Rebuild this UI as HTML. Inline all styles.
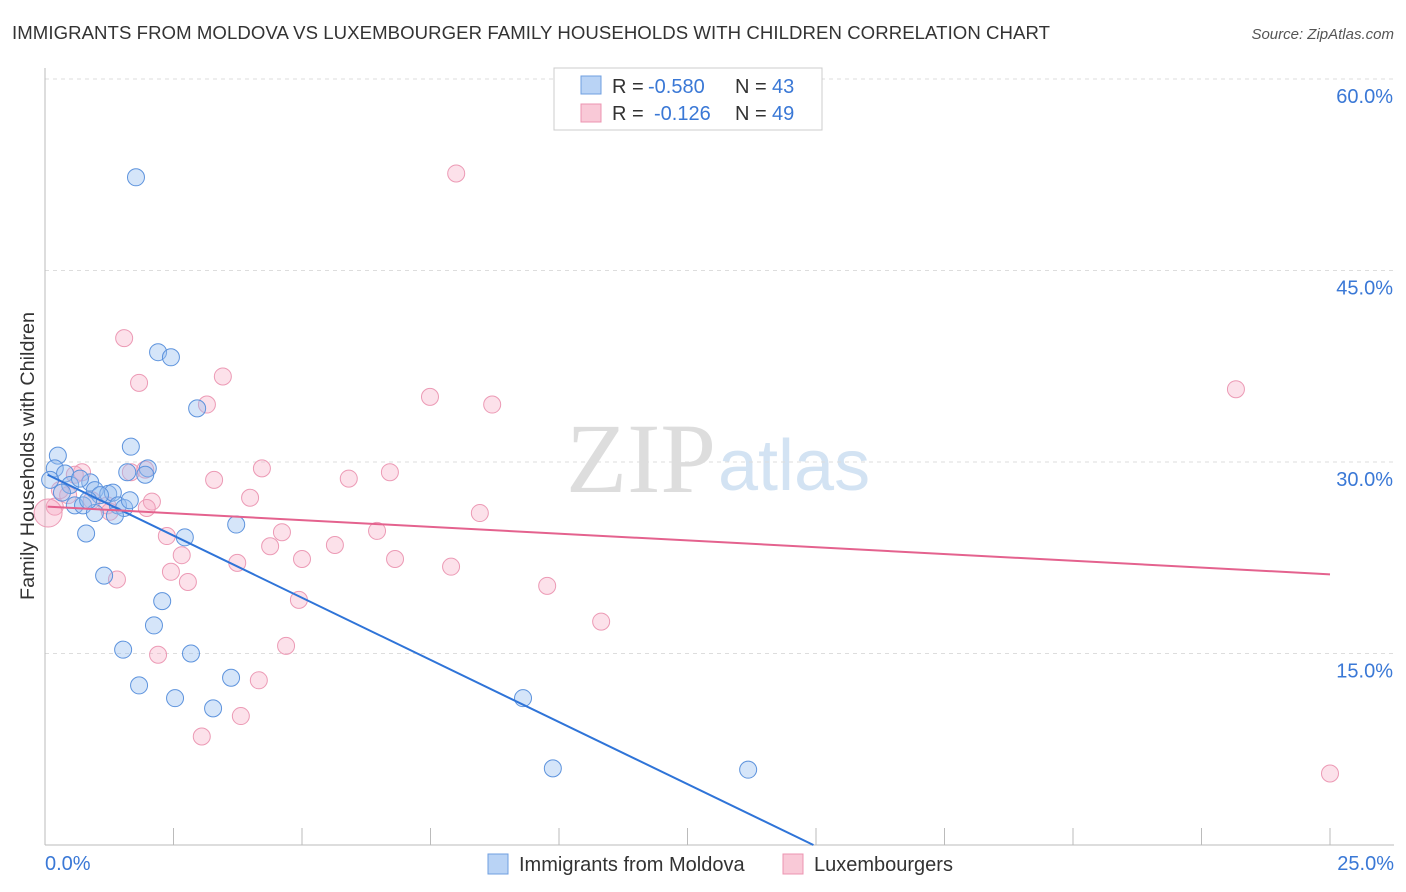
<!DOCTYPE html>
<html><head><meta charset="utf-8"><style>
body{margin:0;background:#fff;font-family:"Liberation Sans",sans-serif}
#c{position:absolute;left:0;top:0}
</style></head><body>
<svg id="c" width="1406" height="892">
<text x="12" y="39" font-size="18.6" fill="#333" textLength="1038">IMMIGRANTS FROM MOLDOVA VS LUXEMBOURGER FAMILY HOUSEHOLDS WITH CHILDREN CORRELATION CHART</text>
<text x="1394" y="39" font-size="15" fill="#555" font-style="italic" text-anchor="end">Source: ZipAtlas.com</text>
<text x="716" y="492" font-size="100" fill="#ddd" text-anchor="end" font-family="Liberation Serif,serif">ZIP</text>
<text x="718" y="490" font-size="72" fill="#d3e3f3">atlas</text>
<g id="grid"></g><g id="axes"></g><g id="pts"></g><g id="lines"></g>
<text x="34" y="456" font-size="19.8" fill="#333" text-anchor="middle" transform="rotate(-90 34 456)">Family Households with Children</text>
<g>
<rect x="554" y="68" width="268" height="62" fill="#fff" stroke="#ccc"/>
<rect x="581" y="76" width="20" height="18" fill="#b9d3f5" stroke="#6f9fe0"/>
<rect x="581" y="104" width="20" height="18" fill="#f9c9d7" stroke="#ec94b0"/>
<text x="612" y="93" font-size="20" fill="#333">R =</text>
<text x="648" y="93" font-size="20" fill="#3a78d6">-0.580</text>
<text x="735" y="93" font-size="20" fill="#333">N =</text>
<text x="772" y="93" font-size="20" fill="#3a78d6">43</text>
<text x="612" y="120" font-size="20" fill="#333">R =</text>
<text x="654" y="120" font-size="20" fill="#3a78d6">-0.126</text>
<text x="735" y="120" font-size="20" fill="#333">N =</text>
<text x="772" y="120" font-size="20" fill="#3a78d6">49</text>
</g>
<g>
<rect x="488" y="854" width="20" height="20" fill="#b9d3f5" stroke="#6f9fe0"/>
<text x="519" y="871" font-size="20" fill="#333">Immigrants from Moldova</text>
<rect x="783" y="854" width="20" height="20" fill="#f9c9d7" stroke="#ec94b0"/>
<text x="814" y="871" font-size="20" fill="#333">Luxembourgers</text>
</g>
</svg>
<script>
const blueX=[1.77,2.20,2.45,2.96,1.67,0.25,0.19,2.00,1.60,1.95,0.39,0.88,0.49,0.33,0.97,1.23,1.32,1.07,0.58,0.74,1.42,1.54,0.97,1.36,3.72,0.80,2.72,1.15,2.28,2.12,1.52,2.84,3.62,1.83,2.53,3.27,9.30,9.88,13.68,0.10,0.68,0.84,1.65];
const blueY=[52.3,38.6,38.2,34.2,31.2,30.5,29.5,29.5,29.2,29.0,29.1,28.4,28.2,27.6,27.8,27.5,27.6,27.4,26.6,26.6,26.6,26.4,26.0,25.8,25.1,24.4,24.1,21.1,19.1,17.2,15.3,15.0,13.1,12.5,11.5,10.7,11.5,6.0,5.9,28.6,28.7,27.0,27.0];
const pinkX=[8.0,1.54,23.17,1.83,3.46,3.15,7.49,8.70,4.22,6.71,5.91,3.29,1.67,0.72,0.58,3.99,2.08,1.98,1.21,1.26,0.19,0.06,0.29,8.46,4.61,6.46,2.37,5.64,4.38,2.66,5.00,6.81,3.74,7.90,2.45,1.40,2.78,9.77,4.94,10.82,4.69,2.20,4.16,3.81,3.05,25.0,0.91,0.45,1.95];
const pinkY=[52.6,39.7,35.7,36.2,36.7,34.5,35.1,34.5,29.5,29.2,28.7,28.6,29.2,29.2,29.0,27.2,26.9,26.4,26.6,26.1,26.5,26.0,27.8,26.0,24.5,24.6,24.2,23.5,23.4,22.7,22.4,22.4,22.1,21.8,21.4,20.8,20.6,20.3,19.2,17.5,15.6,14.9,12.9,10.1,8.5,5.6,27.0,27.4,29.4];
const blueTrendX=[0.05,14.95];
const blueTrendY=[29.0,0];
const pinkTrendX=[0.05,25.0];
const pinkTrendY=[26.5,21.2];
const yTicks=[15,30,45,60];
const yTickLabels=["15.0%","30.0%","45.0%","60.0%"];
const xTicks=[0,2.5,5,7.5,10,12.5,15,17.5,20,22.5,25];
const xs=v=>45+v*51.4, ys=v=>845-v*12.767;
const NS="http://www.w3.org/2000/svg";
function mk(p,t,a){const e=document.createElementNS(NS,t);for(const k in a)e.setAttribute(k,a[k]);document.getElementById(p).appendChild(e);return e;}
yTicks.forEach((t,i)=>{
 const l=mk('grid','line',{x1:45,x2:1394,y1:ys(t),y2:ys(t),stroke:'#ddd','stroke-dasharray':'4,4'});
 
 
 const tx=mk('grid','text',{x:1393,y:ys(t)+24,'font-size':20,fill:'#3a78d6','text-anchor':'end'});
 tx.textContent=yTickLabels[i];
 
 
});
let a=mk('axes','line',{x1:45,x2:45,y1:68,y2:845,stroke:'#bbb'});

a=mk('axes','line',{x1:45,x2:1394,y1:845,y2:845,stroke:'#bbb'});

xTicks.forEach(t=>{const l=mk('axes','line',{x1:xs(t),x2:xs(t),y1:828,y2:845,stroke:'#bbb'});
 });
let t=mk('axes','text',{x:45,y:870,'font-size':20,fill:'#3a78d6'});t.textContent='0.0%';

t=mk('axes','text',{x:1394,y:870,'font-size':20,fill:'#3a78d6','text-anchor':'end'});t.textContent='25.0%';

pinkX.forEach((x,i)=>{const r=(i==21)?14:8.5;const c=mk('pts','circle',{cx:xs(x),cy:ys(pinkY[i]),r:r,fill:'rgba(246,170,195,0.35)',stroke:'#ec9ab5','stroke-width':1});
 });
blueX.forEach((x,i)=>{const c=mk('pts','circle',{cx:xs(x),cy:ys(blueY[i]),r:8.5,fill:'rgba(150,190,240,0.4)',stroke:'#5d93dd','stroke-width':1});
 });
let L=mk('lines','line',{x1:xs(blueTrendX[0]),y1:ys(blueTrendY[0]),x2:xs(blueTrendX[1]),y2:ys(blueTrendY[1]),stroke:'#2f74d8','stroke-width':2});

L=mk('lines','line',{x1:xs(pinkTrendX[0]),y1:ys(pinkTrendY[0]),x2:xs(pinkTrendX[1]),y2:ys(pinkTrendY[1]),stroke:'#e4628e','stroke-width':2});

</script>
</body></html>
